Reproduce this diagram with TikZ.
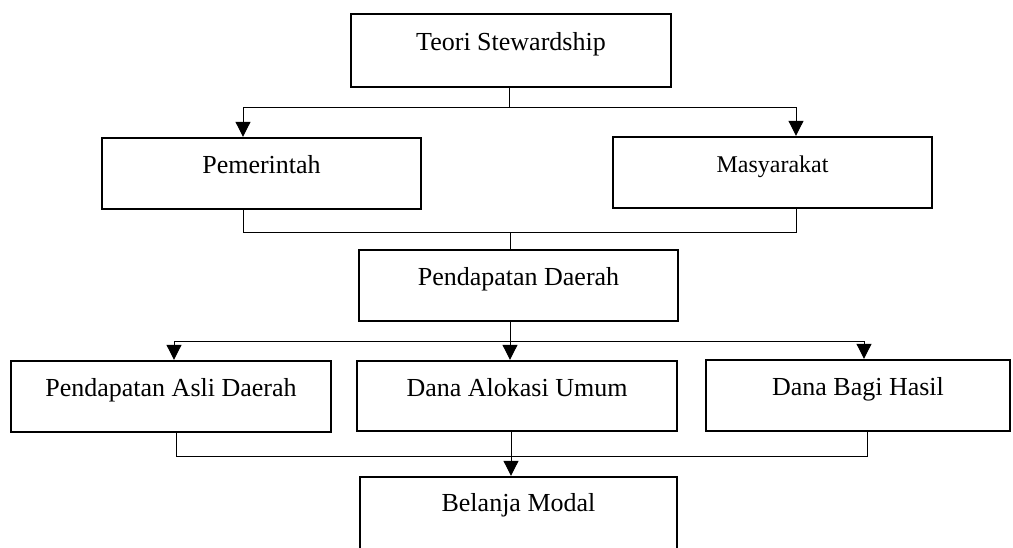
\documentclass[tikz,border=0pt]{standalone}
\usepackage{fontspec}
\setmainfont{Liberation Serif}
\usetikzlibrary{arrows.meta}
\begin{document}
\begin{tikzpicture}[x=1pt,y=1pt,
  box/.style={draw=black, line width=2.4pt, rectangle, inner sep=0pt,
    font=\fontsize{26}{30}\selectfont, text height=12pt, text depth=12pt},
  conn/.style={draw=black, line width=1pt},
  arr/.style={conn, -{Triangle[width=15pt,length=15pt]}}]
\fill[white] (0,0) rectangle (1013,-547);
\useasboundingbox (0,0) rectangle (1013,-547);
% boxes
\node[box, minimum width=320pt, minimum height=73pt] (teori) at (511,-50.5) {Teori Stewardship};
\node[box, minimum width=319pt, minimum height=71pt] (pem) at (261.5,-173.5) {Pemerintah};
\node[box, minimum width=319pt, minimum height=71pt, font=\fontsize{24}{28}\selectfont] (mas) at (772.5,-172.5) {Masyarakat};
\node[box, minimum width=319pt, minimum height=71pt] (pd) at (518.5,-285.5) {Pendapatan Daerah};
\node[box, minimum width=320pt, minimum height=71pt] (b1) at (171,-396.5) {Pendapatan Asli Daerah};
\node[box, minimum width=320pt, minimum height=70pt] (b2) at (517,-396) {Dana Alokasi Umum};
\node[box, minimum width=304pt, minimum height=71pt] (b3) at (858,-395.5) {Dana Bagi Hasil};
\node[box, minimum width=317pt, minimum height=80pt, text height=12pt, text depth=24pt] (bm) at (518.5,-517) {Belanja Modal};
% junctions
\coordinate (j1) at (509,-107);
\coordinate (j2) at (510,-232);
\coordinate (j3) at (510,-341);
\coordinate (j4) at (511,-456);
% connectors
\draw[conn] (teori.south -| j1) -- (j1);
\draw[arr] (j1) -| ([xshift=-18.5pt]pem.north);
\draw[arr] (j1) -| ([xshift=23.5pt]mas.north);
\draw[conn] ([xshift=-18.5pt]pem.south) |- (j2);
\draw[conn] ([xshift=23.5pt]mas.south) |- (j2);
\draw[conn] (j2) -- (pd.north -| j2);
\draw[conn] (pd.south -| j3) -- (j3);
\draw[arr] (j3) -| ([xshift=3pt]b1.north);
\draw[arr] (j3) -- (b2.north -| j3);
\draw[arr] (j3) -| ([xshift=6pt]b3.north);
\draw[conn] ([xshift=5pt]b1.south) |- (j4);
\draw[conn] ([xshift=9pt]b3.south) |- (j4);
\draw[conn] (b2.south -| j4) -- (j4);
\draw[arr] (j4) -- (bm.north -| j4);
\end{tikzpicture}
\end{document}
